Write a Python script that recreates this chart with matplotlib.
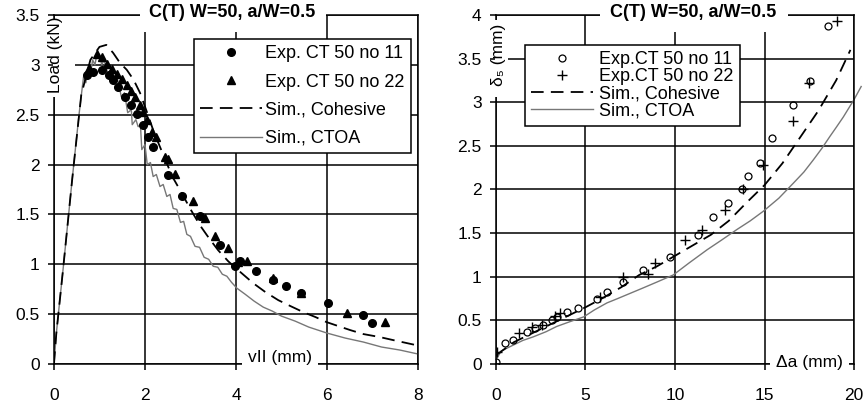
import matplotlib
matplotlib.use("Agg")
import matplotlib.pyplot as plt
from matplotlib.patches import Rectangle
from matplotlib.ticker import FormatStrFormatter

plt.rcParams['font.family'] = ['Liberation Sans', 'DejaVu Sans']

# ---- left panel: load vs vII ----
exp11_v = [0.72, 0.85, 1.05, 1.2, 1.3, 1.41, 1.56, 1.7, 1.82, 1.95, 2.07, 2.18, 2.51, 2.81,
           3.21, 3.65, 3.97, 4.09, 4.45, 4.82, 5.11, 5.44, 6.03, 6.80, 6.98]
exp11_F = [2.90, 2.93, 2.95, 2.90, 2.85, 2.78, 2.68, 2.60, 2.51, 2.40, 2.28, 2.18, 1.90, 1.68,
           1.48, 1.19, 0.98, 1.03, 0.93, 0.84, 0.78, 0.71, 0.61, 0.49, 0.41]
exp22_v = [0.78, 0.94, 1.05, 1.16, 1.27, 1.38, 1.49, 1.6, 1.7, 1.78, 1.88, 1.96, 2.05, 2.15,
           2.25, 2.44, 2.50, 2.66, 3.06, 3.32, 3.54, 3.83, 4.05, 4.24, 4.82, 5.44, 6.43, 7.27]
exp22_F = [2.97, 3.11, 3.08, 3.01, 2.96, 2.91, 2.86, 2.80, 2.74, 2.68, 2.60, 2.53, 2.45, 2.33,
           2.28, 2.08, 2.06, 1.91, 1.63, 1.46, 1.28, 1.16, 1.02, 1.03, 0.86, 0.71, 0.51, 0.42]
coh_v = [0, 0.05, 0.2, 0.4, 0.6, 0.8, 1.0, 1.15, 1.3, 1.45, 1.6, 1.75, 1.89, 2.04, 2.2, 2.4,
         2.6, 2.8, 2.99, 3.21, 3.41, 3.61, 3.83, 4.05, 4.38, 4.65, 4.93, 5.2, 5.48, 5.75, 5.99,
         6.25, 6.51, 6.8, 7.16, 7.45, 7.75, 7.95]
coh_F = [0, 0.3, 0.95, 1.85, 2.7, 3.05, 3.18, 3.2, 3.12, 3.02, 2.95, 2.85, 2.72, 2.53, 2.32, 2.1,
         1.88, 1.72, 1.56, 1.39, 1.26, 1.14, 1.03, 0.94, 0.81, 0.72, 0.64, 0.58, 0.52, 0.47, 0.42,
         0.38, 0.34, 0.30, 0.27, 0.24, 0.21, 0.19]
ctoa_v = [0, 0.05, 0.2, 0.4, 0.55, 0.65, 0.7, 0.75, 0.8, 0.85, 0.9, 0.95, 1.0, 1.05, 1.1, 1.18,
          1.25, 1.32, 1.4, 1.48, 1.55, 1.62, 1.7, 1.72, 1.8, 1.85, 1.9, 1.93, 2.0, 2.05, 2.12,
          2.18, 2.25, 2.33, 2.4, 2.48, 2.55, 2.62, 2.7, 2.78, 2.85, 2.92, 3.0, 3.1, 3.2, 3.3,
          3.4, 3.5, 3.6, 3.7, 3.8, 3.9, 4.02, 4.2, 4.4, 4.6, 4.8, 5.0, 5.3, 5.6, 6.0, 6.4, 6.8,
          7.2, 7.6, 8.0]
ctoa_F = [0, 0.3, 0.95, 1.85, 2.5, 2.88, 2.82, 2.95, 2.9, 3.05, 3.0, 3.12, 3.1, 3.0, 3.05, 2.92,
          2.95, 2.82, 2.85, 2.68, 2.72, 2.52, 2.55, 2.40, 2.45, 2.38, 2.40, 2.15, 2.2, 2.0, 2.02,
          1.88, 1.9, 1.78, 1.8, 1.68, 1.7, 1.56, 1.55, 1.42, 1.43, 1.30, 1.28, 1.18, 1.17, 1.07,
          1.05, 0.98, 0.97, 0.90, 0.88, 0.82, 0.76, 0.70, 0.63, 0.57, 0.53, 0.48, 0.43, 0.37,
          0.31, 0.26, 0.22, 0.17, 0.14, 0.10]

# ---- right panel: delta5 vs crack extension ----
exp11_da = [0, 0.5, 0.97, 1.71, 2.18, 2.64, 3.11, 3.39, 3.95, 4.6, 5.62, 6.18, 7.11, 8.23, 9.72,
            11.3, 12.14, 12.98, 13.73, 14.1, 14.75, 15.4, 16.6, 17.54, 18.56]
exp11_d5 = [0.02, 0.24, 0.28, 0.37, 0.41, 0.45, 0.50, 0.54, 0.60, 0.64, 0.75, 0.83, 0.94, 1.08,
            1.23, 1.48, 1.69, 1.85, 2.0, 2.15, 2.30, 2.59, 2.97, 3.24, 3.87]
exp22_da = [0.05, 1.3, 2.0, 2.55, 3.3, 3.58, 5.81, 7.11, 8.5, 8.88, 10.56, 11.5, 12.79, 13.8,
            14.9, 16.6, 17.5, 19.05]
exp22_d5 = [0.14, 0.35, 0.42, 0.45, 0.55, 0.58, 0.77, 1.0, 1.03, 1.16, 1.42, 1.54, 1.76, 2.01,
            2.28, 2.78, 3.22, 3.93]
coh_da = [0, 1, 2, 3, 4, 5, 6, 7, 8, 9, 10, 11, 12, 13, 14, 15, 16, 17, 18, 19, 19.8]
coh_d5 = [0.1, 0.25, 0.35, 0.45, 0.55, 0.65, 0.76, 0.88, 1.02, 1.12, 1.24, 1.36, 1.48, 1.64,
          1.85, 2.05, 2.3, 2.6, 2.9, 3.25, 3.6]
ctoa_da = [0, 0.3, 0.8, 1.5, 2.07, 2.8, 3.39, 4.2, 4.9, 5.5, 6.2, 6.8, 7.5, 8.2, 9.0, 9.9, 10.8,
           11.8, 12.6, 13.45, 14.2, 14.93, 15.8, 16.6, 17.2, 17.73, 18.2, 18.66, 19.0, 19.4,
           19.7, 20.0, 20.4]
ctoa_d5 = [0.05, 0.15, 0.2, 0.27, 0.31, 0.37, 0.43, 0.49, 0.54, 0.62, 0.70, 0.75, 0.81, 0.87,
           0.94, 1.02, 1.16, 1.31, 1.42, 1.54, 1.64, 1.75, 1.9, 2.07, 2.2, 2.34, 2.47, 2.61,
           2.71, 2.83, 2.93, 3.03, 3.18]

title = "C(T) W=50, a/W=0.5"

fig = plt.figure(figsize=(8.65, 4.07), dpi=100)
ax1 = fig.add_axes([0.0624, 0.1057, 0.4208, 0.8575])
ax2 = fig.add_axes([0.5734, 0.1057, 0.4139, 0.8575])


def style(ax, xmax, xstep, ymax):
    ax.set_xlim(0, xmax)
    ax.set_ylim(0, ymax)
    ax.set_xticks([i * xstep for i in range(int(round(xmax / xstep)) + 1)])
    ax.set_yticks([i * 0.5 for i in range(int(round(ymax / 0.5)) + 1)])
    ax.xaxis.set_major_formatter(FormatStrFormatter('%g'))
    ax.yaxis.set_major_formatter(FormatStrFormatter('%g'))
    ax.grid(True, color='black', lw=1.1)
    ax.set_axisbelow(True)
    for s in ax.spines.values():
        s.set_linewidth(1.1)
    ax.tick_params(axis='both', direction='out', length=4.3, width=1.1, labelsize=12.5)
    ax.tick_params(axis='x', pad=13)
    ax.tick_params(axis='y', pad=6)


style(ax1, 8, 2, 3.5)
style(ax2, 20, 5, 4)

# left panel data
ax1.plot(ctoa_v, ctoa_F, color='#777777', lw=1.0, label='Sim., CTOA', zorder=2)
l1, = ax1.plot(coh_v, coh_F, color='black', lw=1.3, ls='--', label='Sim., Cohesive', zorder=2)
l1.set_dashes((7, 4))
ax1.plot(exp11_v, exp11_F, 'o', color='black', ms=5.5, label='Exp. CT 50 no 11', zorder=3)
ax1.plot(exp22_v, exp22_F, '^', color='black', ms=5.5, label='Exp. CT 50 no 22', zorder=3)

# right panel data
ax2.plot(ctoa_da, ctoa_d5, color='#777777', lw=1.0, label='Sim., CTOA', zorder=2, clip_on=False)
l2, = ax2.plot(coh_da, coh_d5, color='black', lw=1.3, ls='--', label='Sim., Cohesive', zorder=2)
l2.set_dashes((7, 4))
ax2.plot(exp11_da, exp11_d5, 'o', mfc='none', mec='black', ms=5, mew=0.9,
         label='Exp.CT 50 no 11', zorder=3)
ax2.plot(exp22_da, exp22_d5, '+', color='black', ms=7.5, mew=1.0,
         label='Exp.CT 50 no 22', zorder=3)

for ax, bx, by, sp, hp in [(ax1, 0.385, 0.931, 0.62, 0.2), (ax2, 0.081, 0.914, 0.0, 0.35)]:
    h, lab = ax.get_legend_handles_labels()
    order = [2, 3, 1, 0]
    leg = ax.legend([h[i] for i in order], [lab[i] for i in order], loc='upper left',
                    bbox_to_anchor=(bx, by), fontsize=13, frameon=True, fancybox=False,
                    framealpha=1, edgecolor='black', handlelength=3.4, handletextpad=hp,
                    labelspacing=sp, borderpad=0.35, borderaxespad=0)
    leg.get_frame().set_linewidth(1.1)
    leg.set_zorder(6)

# white boxes behind the titles and the y labels, like the original
ax1.add_patch(Rectangle((0.236, 0.951), 0.511, 0.1, transform=ax1.transAxes,
                        facecolor='white', edgecolor='none', zorder=3.5, clip_on=False))
ax1.add_patch(Rectangle((-0.004, 0.765), 0.062, 0.22, transform=ax1.transAxes,
                        facecolor='white', edgecolor='none', zorder=3.5, clip_on=False))
ax2.add_patch(Rectangle((0.29, 0.951), 0.526, 0.1, transform=ax2.transAxes,
                        facecolor='white', edgecolor='none', zorder=3.5, clip_on=False))
ax2.add_patch(Rectangle((-0.004, 0.765), 0.038, 0.22, transform=ax2.transAxes,
                        facecolor='white', edgecolor='none', zorder=3.5, clip_on=False))

ax1.text(0.49, 1.006, title, transform=ax1.transAxes, ha='center', va='center',
         fontsize=13, fontweight='bold', zorder=7)
ax2.text(0.552, 1.006, title, transform=ax2.transAxes, ha='center', va='center',
         fontsize=13, fontweight='bold', zorder=7)

ax1.text(0.003, 0.885, 'Load (kN)', transform=ax1.transAxes, rotation=90,
         ha='center', va='center', fontsize=12.5, zorder=7)
ax2.text(0.006, 0.885, 'δ₅ (mm)', transform=ax2.transAxes, rotation=90,
         ha='center', va='center', fontsize=12.5, zorder=7)

ax1.text(4.97, 0.07, 'vII (mm)', ha='center', va='center', fontsize=12.5, zorder=7,
         bbox=dict(boxstyle='square,pad=0.35', facecolor='white', edgecolor='none'))
ax2.text(17.49, 0.02, 'Δa (mm)', ha='center', va='center', fontsize=12.5, zorder=7,
         bbox=dict(boxstyle='square,pad=0.35', facecolor='white', edgecolor='none'))

fig.savefig('out.png', dpi=100)
